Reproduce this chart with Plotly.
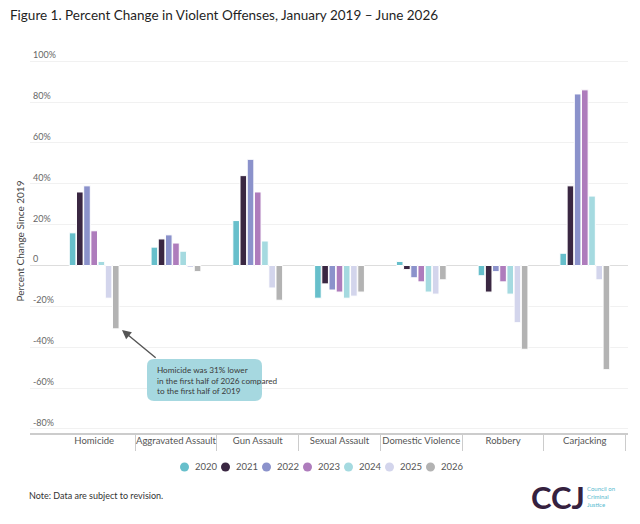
import plotly.graph_objects as go

categories = ["Homicide", "Aggravated Assault", "Gun Assault", "Sexual Assault",
              "Domestic Violence", "Robbery", "Carjacking"]
years = ["2020", "2021", "2022", "2023", "2024", "2025", "2026"]

v2020 = [16, 9, 22, -16, 2, -5, 6]
v2021 = [36, 13, 44, -9, -2, -13, 39]
v2022 = [39, 15, 52, -12, -6, -3, 84]
v2023 = [17, 11, 36, -13, -8, -8, 86]
v2024 = [2, 7, 12, -16, -13, -14, 34]
v2025 = [-16, -1, -11, -15, -14, -28, -7]
v2026 = [-31, -3, -17, -13, -7, -41, -51]

series = [v2020, v2021, v2022, v2023, v2024, v2025, v2026]
colors = ["#67BFCB", "#3A2742", "#8B92CB", "#AE7CBC", "#A5DAE0", "#D3D5EC", "#B3B3B3"]

y_ticks = [-80, -60, -40, -20, 0, 20, 40, 60, 80, 100]
y_ticktext = ["-80%", "-60%", "-40%", "-20%", "0", "20%", "40%", "60%", "80%", "100%"]

W, H = 640, 524
OFF = 8  # page body margin
# plot area in window pixels
PL, PR, PT, PB = 30, 628, 48.5, 433


# window pixel -> paper helpers
def px_x(px):
    return (px - PL) / (PR - PL)


def px_y(py):
    return (PB - py) / (PB - PT)


fig = go.Figure()
for name, vals, col in zip(years, series, colors):
    fig.add_trace(go.Bar(x=categories, y=vals, name=name, marker_color=col,
                         marker_line=dict(color="white", width=1), showlegend=False))

fig.update_layout(
    width=W, height=H,
    margin=dict(l=PL - OFF, r=W - (PR - OFF), t=PT - OFF, b=H - (PB - OFF)),
    paper_bgcolor="white", plot_bgcolor="white",
    font=dict(family="Lato", color="#333"),
    barmode="group", bargap=0.384, bargroupgap=0.08,
    title=dict(text="Figure 1. Percent Change in Violent Offenses, January 2019 \u2013 June 2026",
               x=2 / W, xref="container", xanchor="left",
               y=1 - 3 / H, yref="container", yanchor="top",
               font=dict(size=13.5, color="#1f1f1f")),
)

fig.update_xaxes(range=[-0.785, 6.528], tickson="boundaries", ticks="outside", ticklen=16,
                 tickcolor="#cccccc", showline=True, linecolor="#cccccc", linewidth=1.5,
                 showgrid=False, ticklabelstandoff=-2, tickangle=0, automargin=False,
                 tickfont=dict(size=9.5, color="#555"))

fig.update_yaxes(range=[-82, 106], tickvals=y_ticks, ticktext=y_ticktext,
                 ticklabelposition="inside top", tickfont=dict(size=9, color="#666"),
                 showgrid=True, gridcolor="#f1f1f1", zeroline=True, zerolinecolor="#dddddd",
                 zerolinewidth=1, showline=False, automargin=False,
                 title=dict(text="Percent Change Since 2019", standoff=6,
                            font=dict(size=10, color="#444")))

# legend with round markers
for i, (name, col) in enumerate(zip(years, colors)):
    cx = 184.5 + 41 * i
    fig.add_shape(type="circle", xref="paper", yref="paper",
                  xsizemode="pixel", ysizemode="pixel",
                  xanchor=px_x(cx), yanchor=px_y(467),
                  x0=-4.5, x1=4.5, y0=-4.5, y1=4.5,
                  fillcolor=col, line=dict(width=0))
    fig.add_annotation(x=px_x(cx + 8), y=px_y(467), xref="paper", yref="paper",
                       text=name, showarrow=False, xanchor="left", yanchor="middle",
                       font=dict(size=9.5, color="#555"))

# callout box
bx0, bx1, by0, by1, r = 147, 262, 359, 401, 7
path = (f"M {px_x(bx0 + r)} {px_y(by0)} L {px_x(bx1 - r)} {px_y(by0)} "
        f"Q {px_x(bx1)} {px_y(by0)} {px_x(bx1)} {px_y(by0 + r)} "
        f"L {px_x(bx1)} {px_y(by1 - r)} Q {px_x(bx1)} {px_y(by1)} {px_x(bx1 - r)} {px_y(by1)} "
        f"L {px_x(bx0 + r)} {px_y(by1)} Q {px_x(bx0)} {px_y(by1)} {px_x(bx0)} {px_y(by1 - r)} "
        f"L {px_x(bx0)} {px_y(by0 + r)} Q {px_x(bx0)} {px_y(by0)} {px_x(bx0 + r)} {px_y(by0)} Z")
fig.add_shape(type="path", xref="paper", yref="paper", path=path,
              fillcolor="#A6D8E0", line=dict(width=0))
fig.add_annotation(x=px_x(155), y=px_y(380), xref="paper", yref="paper",
                   text="Homicide was 31% lower<br>in the first half of 2026 compared<br>to the first half of 2019",
                   showarrow=False, xanchor="left", yanchor="middle", align="left",
                   font=dict(size=8.2, color="#3a3a3a"))
fig.add_annotation(x=0.34, y=-31.6, xref="x", yref="y", ax=0.77, ay=-45.8,
                   axref="x", ayref="y", text="", showarrow=True, arrowhead=2,
                   arrowsize=1.3, arrowwidth=1.4, arrowcolor="#555", standoff=0)

# footer
fig.add_annotation(x=px_x(27), y=px_y(496), xref="paper", yref="paper",
                   text="Note: Data are subject to revision.", showarrow=False,
                   xanchor="left", yanchor="middle", font=dict(size=9, color="#333"))
fig.add_annotation(x=px_x(529), y=px_y(497), xref="paper", yref="paper",
                   text="<b>CCJ</b>", showarrow=False, xanchor="left", yanchor="middle",
                   font=dict(size=31, color="#35213F", family="Lato", weight=900))
fig.add_annotation(x=px_x(585), y=px_y(497), xref="paper", yref="paper",
                   text="Council on<br>Criminal<br>Justice", showarrow=False,
                   xanchor="left", yanchor="middle", align="left",
                   font=dict(size=6, color="#56BBCF"))

fig.write_html("out.html")
